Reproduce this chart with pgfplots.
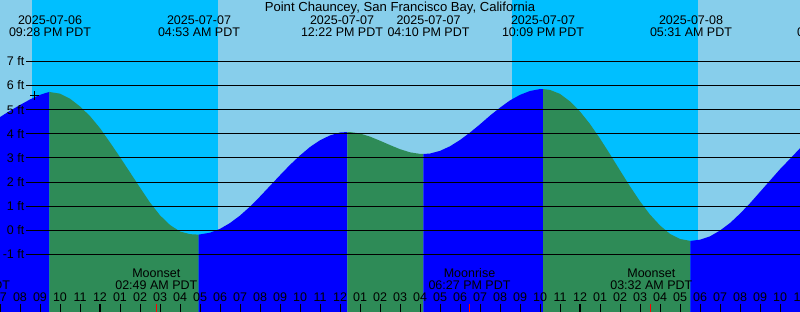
\documentclass[border=0pt]{standalone}
\usepackage{fontspec}
\setmainfont{Liberation Sans}
\usepackage{pgfplots}
\pgfplotsset{compat=1.18}
\definecolor{daycol}{HTML}{87CEEB}
\definecolor{nightcol}{HTML}{00BFFF}
\definecolor{risecol}{HTML}{0000FF}
\definecolor{fallcol}{HTML}{2E8B57}
\newcommand{\lf}{\fontsize{12.5}{15}\selectfont}
\newcommand{\tf}{\fontsize{13.1}{15}\selectfont}
\begin{document}
\begin{tikzpicture}
\begin{axis}[
  at={(0,0)}, anchor=south west,
  scale only axis, width=800pt, height=312pt,
  xmin=-5, xmax=35, ymin=-3.3845, ymax=9.54,
  axis background/.style={fill=daycol},
  axis line style={draw=none},
  axis on top,
  ytick=\empty,
  xtick={-5,...,35},
  xticklabels={07,08,09,10,11,12,01,02,03,04,05,06,07,08,09,10,11,12,01,02,03,04,05,06,07,08,09,10,11,12,01,02,03,04,05,06,07,08,09,10,11},
  xtick pos=bottom,
  tick align=inside,
  major tick length=8pt,
  tick style={black, line width=1pt},
  xticklabel style={anchor=base, yshift=10pt, inner sep=0pt, font=\lf},
  extra x ticks={0,24},
  extra x tick labels={},
  extra x tick style={tick style={black, line width=2.5pt}},
  clip=true,
]
% night
\addplot[draw=none, fill=nightcol] coordinates {(-3.4,-4) (-3.4,10) (5.9,10) (5.9,-4)};
\addplot[draw=none, fill=nightcol] coordinates {(20.6,-4) (20.6,10) (29.9,10) (29.9,-4)};
% tide: rising (blue) and falling (green)
\addplot[draw=none, fill=risecol] coordinates {(-5,-4) (-5,4.69) (-4.5,4.95) (-4,5.19) (-3.5,5.42) (-3,5.61) (-2.75,5.68) (-2.533,5.73) (-2.533,-4)};
\addplot[draw=none, fill=fallcol] coordinates {(-2.533,-4) (-2.533,5.73) (-2,5.66) (-1.5,5.45) (-1,5.13) (-0.5,4.73) (0,4.23) (0.5,3.64) (1,3.03) (1.5,2.40) (2,1.77) (2.5,1.15) (3,0.62) (3.5,0.22) (4,-0.05) (4.5,-0.16) (4.93,-0.18) (4.93,-4)};
\addplot[draw=none, fill=risecol] coordinates {(4.93,-4) (4.93,-0.18) (5.5,-0.10) (6,0.06) (6.5,0.30) (7,0.61) (7.5,0.98) (8,1.40) (8.5,1.84) (9,2.28) (9.5,2.71) (10,3.10) (10.5,3.45) (11,3.73) (11.5,3.93) (12,4.05) (12.367,4.07) (12.367,-4)};
\addplot[draw=none, fill=fallcol] coordinates {(12.367,-4) (12.367,4.07) (12.5,4.07) (13,4.01) (13.5,3.88) (14,3.71) (14.5,3.53) (15,3.36) (15.5,3.23) (16,3.165) (16.167,3.16) (16.167,-4)};
\addplot[draw=none, fill=risecol] coordinates {(16.167,-4) (16.167,3.16) (16.5,3.18) (17,3.29) (17.5,3.48) (18,3.74) (18.5,4.05) (19,4.39) (19.5,4.75) (20,5.08) (20.5,5.38) (21,5.61) (21.5,5.77) (22,5.85) (22.15,5.85) (22.15,-4)};
\addplot[draw=none, fill=fallcol] coordinates {(22.15,-4) (22.15,5.85) (22.5,5.815) (23,5.65) (23.5,5.34) (24,4.92) (24.5,4.40) (25,3.80) (25.5,3.15) (26,2.48) (26.5,1.82) (27,1.20) (27.5,0.65) (28,0.20) (28.5,-0.15) (29,-0.36) (29.517,-0.44) (29.517,-4)};
\addplot[draw=none, fill=risecol] coordinates {(29.517,-4) (29.517,-0.44) (30,-0.39) (30.5,-0.25) (31,-0.01) (31.5,0.30) (32,0.69) (32.5,1.12) (33,1.59) (33.5,2.06) (34,2.53) (34.5,2.96) (35,3.40) (35,-4)};
% grid lines
\foreach \k in {-1,...,7} {
  \edef\tmp{\noexpand\addplot[black, line width=1pt] coordinates {(-3.7,\k) (35,\k)};}
  \tmp
}
% marker
\addplot[only marks, mark=+, mark size=4.3pt, black, mark options={line width=1pt}] coordinates {(-3.285,5.576)};
% moon event ticks
\addplot[red, line width=1pt] coordinates {(2.817,-3.3845) (2.817,-3.053)};
\addplot[red, line width=1pt] coordinates {(18.45,-3.3845) (18.45,-3.053)};
\addplot[red, line width=1pt] coordinates {(27.533,-3.3845) (27.533,-3.053)};
% y labels
\foreach \k in {-1,...,7} {
  \edef\tmp{\noexpand\node[anchor=east, inner sep=0pt, font=\noexpand\lf] at (axis cs:-3.775,\k) {\k\noexpand\ ft};}
  \tmp
}
% title
\node[anchor=base, inner sep=0pt, font=\tf] at (axis cs:15,9.064) {Point Chauncey, San Francisco Bay, California};
% tide event labels
\foreach \t/\d/\h in {-2.5/2025-07-06/09:28 PM PDT, 4.95/2025-07-07/04:53 AM PDT, 12.1/2025-07-07/12:22 PM PDT, 16.425/2025-07-07/04:10 PM PDT, 22.15/2025-07-07/10:09 PM PDT, 29.55/2025-07-08/05:31 AM PDT, 36.9/2025-07-08/01:02 PM PDT} {
  \edef\tmp{\noexpand\node[anchor=base, inner sep=0pt, font=\noexpand\lf] at (axis cs:\t,8.533) {\d};
    \noexpand\node[anchor=base, inner sep=0pt, font=\noexpand\lf] at (axis cs:\t,8.036) {\h};}
  \tmp
}
% moon labels
\foreach \t/\d/\h in {-6.55/Moonrise/05:27 PM PDT, 2.815/Moonset/02:49 AM PDT, 18.475/Moonrise/06:27 PM PDT, 27.565/Moonset/03:32 AM PDT} {
  \edef\tmp{\noexpand\node[anchor=base, inner sep=0pt, font=\noexpand\lf] at (axis cs:\t,-1.951) {\d};
    \noexpand\node[anchor=base, inner sep=0pt, font=\noexpand\lf] at (axis cs:\t,-2.473) {\h};}
  \tmp
}
\end{axis}
\pgfresetboundingbox
\path[use as bounding box] (0,0) rectangle (800pt,312pt);
\end{tikzpicture}
\end{document}
